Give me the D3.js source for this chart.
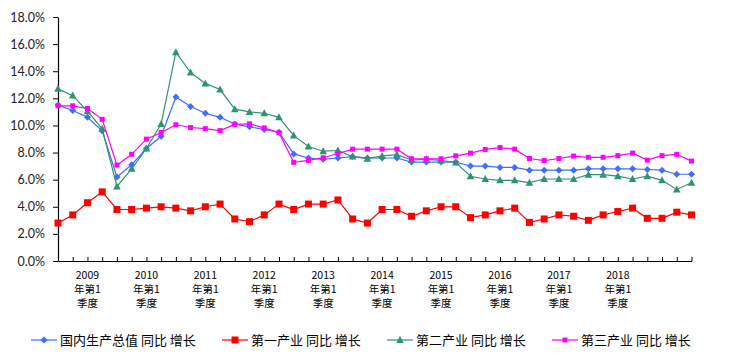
<!DOCTYPE html>
<html><head><meta charset="utf-8">
<script src="https://cdn.jsdelivr.net/npm/d3@7"></script>
<style>
html,body{margin:0;padding:0;background:#fff;}
svg{display:block;}
</style></head>
<body><svg id="c" width="729" height="359"></svg>
<script>
// quarters 2008Q1 .. 2018Q4
const categories = [];
for (let yr = 2008; yr <= 2018; yr++) for (let q = 1; q <= 4; q++) categories.push(yr + "Q" + q);

const gdp = [11.5,11.1,10.6,9.6, 6.2,7.1,8.3,9.2, 12.1,11.4,10.9,10.6, 10.1,9.9,9.7,9.5,
  7.9,7.6,7.5,7.6, 7.7,7.6,7.6,7.6, 7.3,7.3,7.3,7.3, 7.0,7.0,6.9,6.9,
  6.7,6.7,6.7,6.7, 6.8,6.8,6.8,6.8, 6.75,6.7,6.4,6.4];
const primary = [2.8,3.4,4.3,5.1, 3.8,3.8,3.9,4.0, 3.9,3.7,4.0,4.2, 3.1,2.9,3.4,4.2,
  3.8,4.2,4.2,4.5, 3.1,2.8,3.8,3.8, 3.3,3.7,4.0,4.0, 3.2,3.4,3.7,3.9,
  2.85,3.1,3.4,3.3, 3.0,3.4,3.65,3.9, 3.15,3.15,3.6,3.4];
const secondary = [12.7,12.2,11.05,9.75, 5.5,6.8,8.3,10.1, 15.4,13.9,13.1,12.65, 11.2,11.0,10.9,10.6,
  9.25,8.45,8.1,8.15, 7.7,7.55,7.75,7.85, 7.45,7.5,7.42,7.27, 6.25,6.05,5.95,5.95,
  5.78,6.05,6.05,6.05, 6.37,6.37,6.26,6.05, 6.26,5.95,5.28,5.77];
const tertiary = [11.45,11.45,11.25,10.45, 7.07,7.87,8.99,9.48, 10.05,9.85,9.76,9.62, 10.08,10.12,9.82,9.46,
  7.28,7.42,7.62,7.93, 8.25,8.25,8.25,8.25, 7.54,7.54,7.54,7.76, 7.96,8.23,8.37,8.25,
  7.56,7.41,7.56,7.74, 7.65,7.65,7.77,7.96, 7.44,7.77,7.87,7.37];

const yTicks = [0,2,4,6,8,10,12,14,16,18];
const xTickYears = ["2009","2010","2011","2012","2013","2014","2015","2016","2017","2018"];
const seriesNames = ["国内生产总值 同比 增长","第一产业 同比 增长","第二产业 同比 增长","第三产业 同比 增长"];
const seriesData = [gdp, primary, secondary, tertiary];
const colors = ["#3D6EFF","#FF0000","#2E9470","#FF00FF"];
const markers = ["diamond","square","triangle","smallsquare"];

const svg = d3.select("#c");
const x = d3.scalePoint().domain(categories).range([58, 691.5]);
const y = d3.scaleLinear().domain([0,18]).range([261, 17]);

// Y axis
const yAxis = svg.append("g").attr("transform","translate(58,0)")
  .call(d3.axisLeft(y).tickValues(yTicks).tickFormat(d => d.toFixed(1) + "%").tickSize(5).tickSizeOuter(0).tickPadding(8));
yAxis.select(".domain").attr("stroke","#000").attr("stroke-width",1.2);
yAxis.selectAll(".tick line").attr("stroke","#000");
yAxis.selectAll("text").attr("font-family","Lato, 'Open Sans', sans-serif").attr("font-size","12.5px").attr("fill","#222");

// X axis (ticks inward)
const xAxis = svg.append("g").attr("transform","translate(0,261)")
  .call(d3.axisBottom(x).tickSize(-4).tickSizeOuter(0).tickFormat(""));
xAxis.select(".domain").attr("stroke","#000").attr("stroke-width",1.2);
xAxis.selectAll(".tick line").attr("stroke","#000");

// X tick labels (shown every 4th category, as in the source)
const xl = svg.append("g");
xTickYears.forEach((yr, k) => {
  const cx = x(categories[4*k + 2]);
  const t = xl.append("text").attr("text-anchor","middle")
    .attr("font-family","'Noto Sans CJK SC', sans-serif").attr("font-size","10.5px").attr("fill","#000");
  [yr, "年第1", "季度"].forEach((s, i) => {
    t.append("tspan").attr("x", cx).attr("y", 279 + i*14).text(s);
  });
});

function drawMarker(g, type, cx, cy, color) {
  if (type === "diamond") {
    g.append("path").attr("d", `M${cx},${cy-3.5}L${cx+3.5},${cy}L${cx},${cy+3.5}L${cx-3.5},${cy}Z`).attr("fill",color);
  } else if (type === "square") {
    g.append("rect").attr("x",cx-3.5).attr("y",cy-3.5).attr("width",7).attr("height",7).attr("fill",color);
  } else if (type === "triangle") {
    g.append("path").attr("d", `M${cx},${cy-4}L${cx+3.8},${cy+3}L${cx-3.8},${cy+3}Z`).attr("fill",color);
  } else {
    g.append("rect").attr("x",cx-2.5).attr("y",cy-2.5).attr("width",5).attr("height",5).attr("fill",color);
  }
}

const line = d3.line().x((d,i) => x(categories[i])).y(d => y(d));
seriesData.forEach((data, si) => {
  const g = svg.append("g");
  g.append("path").datum(data).attr("d", line).attr("fill","none")
    .attr("stroke", colors[si]).attr("stroke-width", 1.2);
  data.forEach((v, i) => drawMarker(g, markers[si], x(categories[i]), y(v), colors[si]));
});

// Legend
const legX = [31, 222, 387, 552];
const lg = svg.append("g");
seriesNames.forEach((name, si) => {
  const lx = legX[si], ly = 340;
  lg.append("line").attr("x1", lx).attr("x2", lx + 26).attr("y1", ly).attr("y2", ly)
    .attr("stroke", colors[si]).attr("stroke-width", 1.2);
  drawMarker(lg, markers[si], lx + 13, ly, colors[si]);
  lg.append("text").attr("x", lx + 29).attr("y", ly + 4.5)
    .attr("font-family","'Noto Sans CJK SC', sans-serif").attr("font-size","13px").attr("fill","#000")
    .text(name);
});
</script></body></html>
